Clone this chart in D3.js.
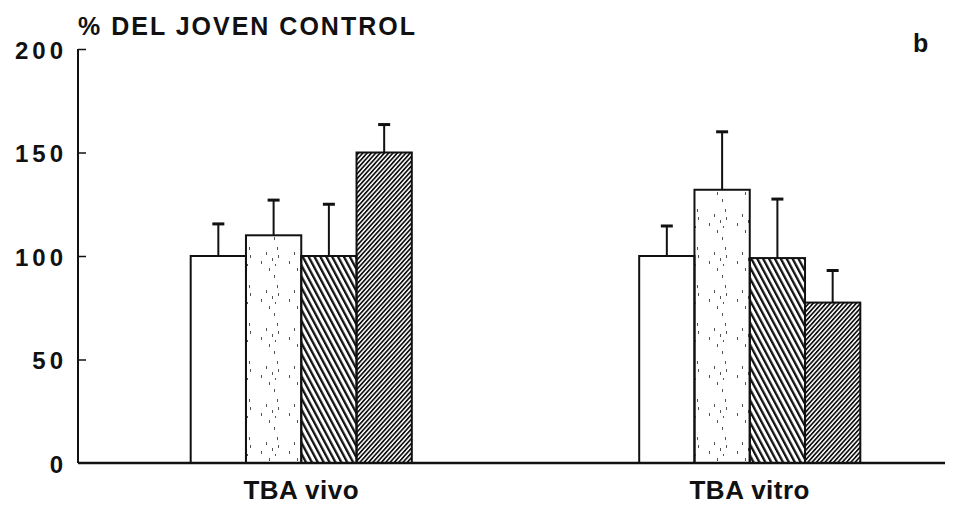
<!DOCTYPE html>
<html lang="en">
<head>
<meta charset="UTF-8">
<title>% del joven control</title>
<script src="https://cdn.jsdelivr.net/npm/d3@7"></script>
<style>
  body { margin: 0; background: #fff; }
  svg text { font-family: "Liberation Sans", Arial, Helvetica, sans-serif; font-weight: bold; fill: #111; }
</style>
</head>
<body>
<div id="chart"></div>
<script>
// values (% of young control)
const groups = ["TBA vivo", "TBA vitro"];
const series = ["s1", "s2", "s3", "s4"];
const means = [
  [100, 110, 100, 150],
  [100, 132, 99, 77.5]
];
const errors = [
  [15.5, 17, 25, 13.5],
  [14.5, 28, 28.5, 15.5]
];
const yTicks = [0, 50, 100, 150, 200];

const width = 973, height = 510;

const svg = d3.select("#chart").append("svg")
  .attr("width", width)
  .attr("height", height);

// fills
const defs = svg.append("defs");

const dots = defs.append("pattern")
  .attr("id", "stipple")
  .attr("patternUnits", "userSpaceOnUse")
  .attr("width", 28).attr("height", 38);
[[17, 2], [22, 9], [25, 19], [14, 24], [20, 30], [26, 27], [9, 33], [23, 36]]
  .forEach(([x, y]) => dots.append("rect")
    .attr("x", x).attr("y", y).attr("width", 1).attr("height", 3)
    .attr("fill", "#555"));

defs.append("pattern")
  .attr("id", "hatchBack")
  .attr("patternUnits", "userSpaceOnUse")
  .attr("width", 5.2).attr("height", 10)
  .attr("patternTransform", "rotate(-28)")
  .append("rect")
  .attr("width", 2.3).attr("height", 10).attr("fill", "#111");

defs.append("pattern")
  .attr("id", "hatchFwd")
  .attr("patternUnits", "userSpaceOnUse")
  .attr("width", 3.2).attr("height", 10)
  .attr("patternTransform", "rotate(42)")
  .append("rect")
  .attr("width", 1.7).attr("height", 10).attr("fill", "#111");

const fills = ["#fff", "url(#stipple)", "url(#hatchBack)", "url(#hatchFwd)"];

const x0 = d3.scaleBand()
  .domain(groups)
  .range([77, 974])
  .paddingInner(0.507)
  .paddingOuter(0.2535);

const x1 = d3.scaleBand()
  .domain(series)
  .range([0, x0.bandwidth()])
  .padding(0);

const y = d3.scaleLinear().domain([0, 200]).range([463, 49]);

// y axis: ticks point inward, labels on the left
const yAxis = svg.append("g")
  .attr("transform", "translate(78,0)")
  .call(d3.axisLeft(y).tickValues(yTicks).tickSize(-8).tickPadding(11));
yAxis.select(".domain").remove();
yAxis.selectAll(".tick line").attr("stroke", "#111").attr("stroke-width", 1.5);
yAxis.selectAll(".tick").filter(d => d === 0).select("line").remove();
yAxis.selectAll(".tick text")
  .style("font-size", "24px")
  .style("letter-spacing", "4px")
  .attr("dy", "0.38em");

svg.append("line")
  .attr("x1", 78).attr("x2", 78)
  .attr("y1", y(200)).attr("y2", y(0))
  .attr("stroke", "#111").attr("stroke-width", 2);

// bars
const rows = groups.flatMap((g, gi) => series.map((s, si) => ({
  group: g, series: s, si, value: means[gi][si], err: errors[gi][si]
})));

svg.append("g")
  .selectAll("rect")
  .data(rows)
  .join("rect")
  .attr("x", d => x0(d.group) + x1(d.series))
  .attr("y", d => y(d.value))
  .attr("width", x1.bandwidth())
  .attr("height", d => y(0) - y(d.value))
  .attr("fill", d => fills[d.si])
  .attr("stroke", "#111")
  .attr("stroke-width", 2);

// error bars (upper only)
const eb = svg.append("g").selectAll("g")
  .data(rows)
  .join("g")
  .attr("transform", d => `translate(${x0(d.group) + x1(d.series) + x1.bandwidth() / 2},0)`);

eb.append("line")
  .attr("y1", d => y(d.value))
  .attr("y2", d => y(d.value + d.err))
  .attr("stroke", "#111")
  .attr("stroke-width", 2);

eb.append("line")
  .attr("x1", -6).attr("x2", 6)
  .attr("y1", d => y(d.value + d.err))
  .attr("y2", d => y(d.value + d.err))
  .attr("stroke", "#111")
  .attr("stroke-width", 3);

// baseline
svg.append("line")
  .attr("x1", 78).attr("x2", 945)
  .attr("y1", y(0)).attr("y2", y(0))
  .attr("stroke", "#111").attr("stroke-width", 2.5);

// group labels
svg.append("g")
  .selectAll("text")
  .data(groups)
  .join("text")
  .attr("x", d => x0(d) + x0.bandwidth() / 2)
  .attr("y", 499)
  .attr("text-anchor", "middle")
  .style("font-size", "26px")
  .style("letter-spacing", "0.5px")
  .text(d => d);

svg.append("text")
  .attr("x", 78)
  .attr("y", 35)
  .style("font-size", "25px")
  .style("letter-spacing", "2px")
  .text("% DEL JOVEN CONTROL");

svg.append("text")
  .attr("x", 913)
  .attr("y", 52)
  .style("font-size", "25px")
  .text("b");
</script>
</body>
</html>
